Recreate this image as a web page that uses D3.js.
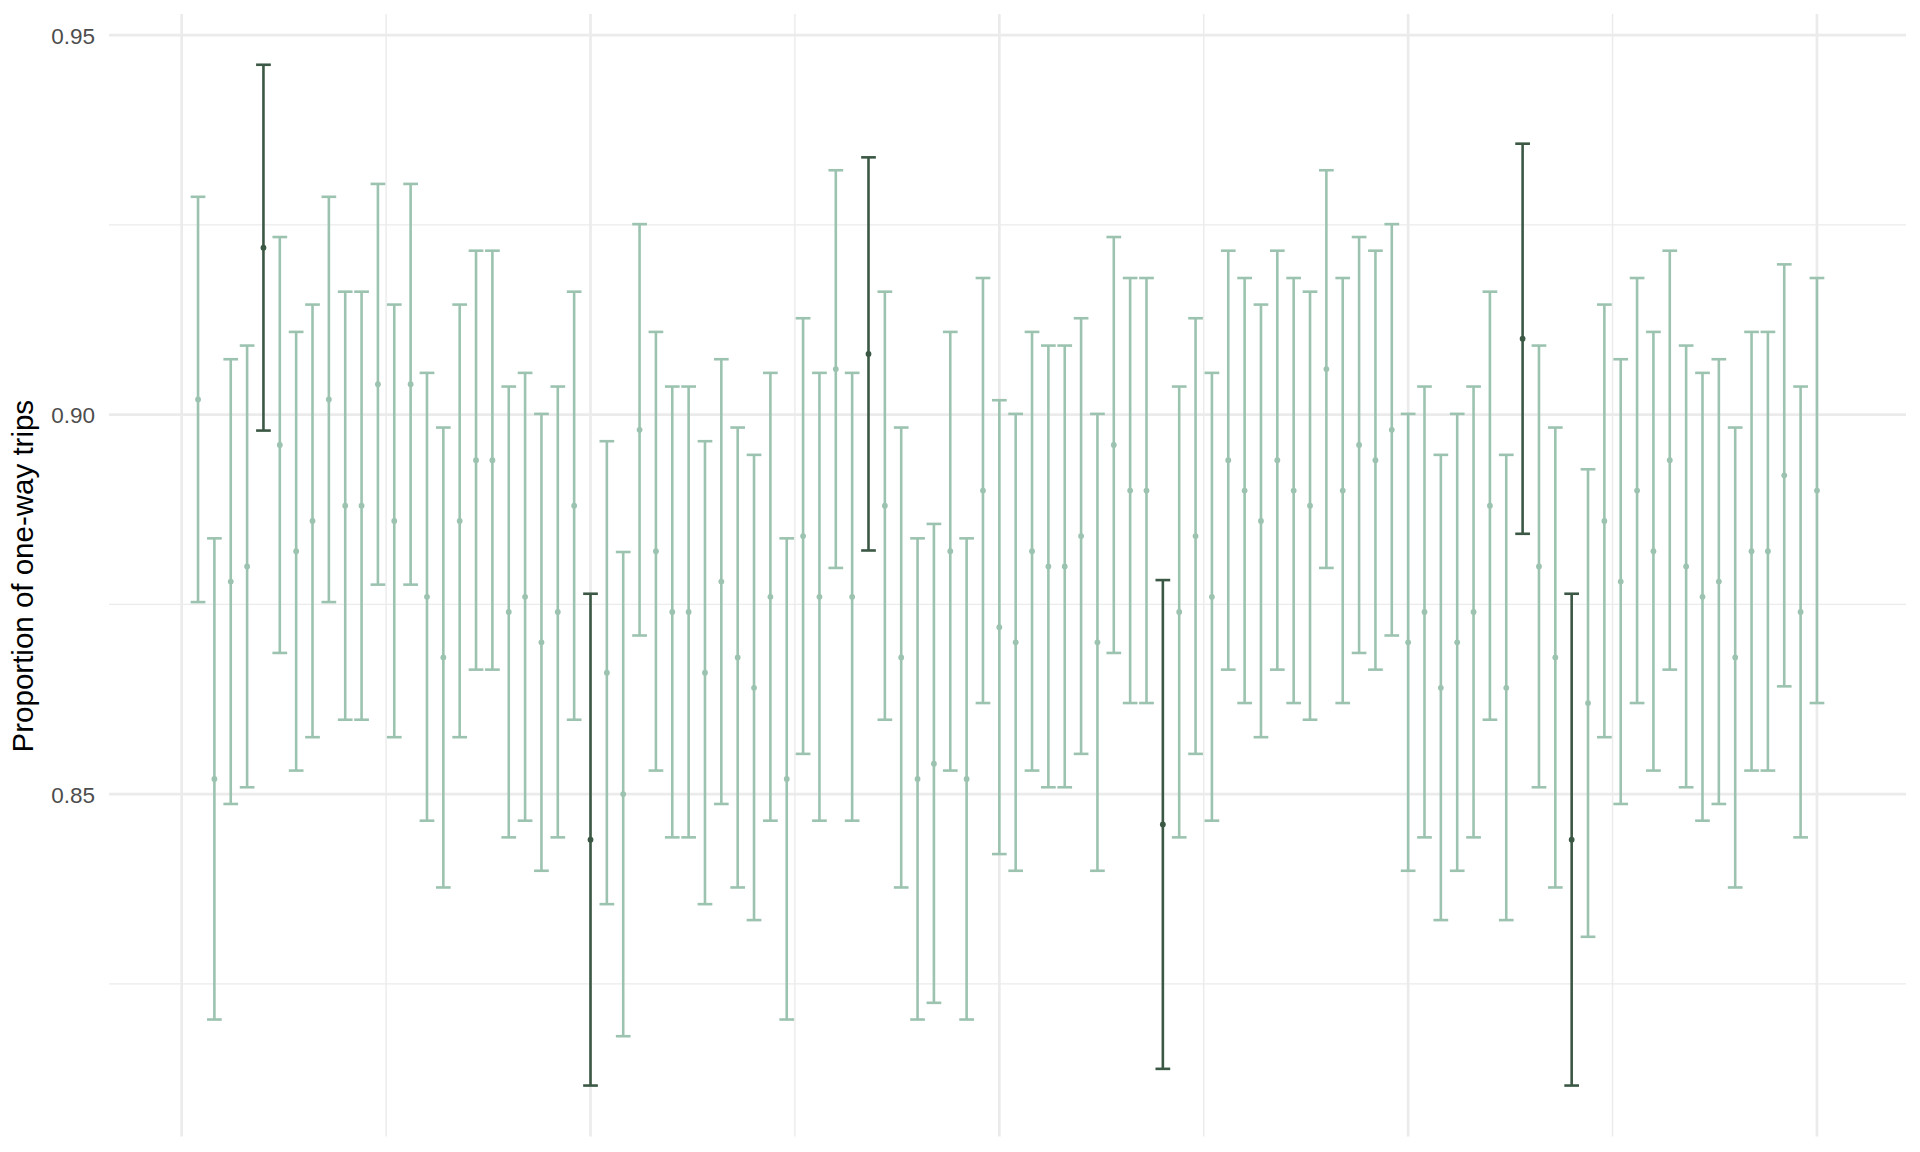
<!DOCTYPE html>
<html>
<head>
<meta charset="utf-8">
<script src="https://cdn.jsdelivr.net/npm/d3@7"></script>
<style>
  html, body { margin: 0; padding: 0; background: #ffffff; }
  svg { display: block; }
</style>
</head>
<body>
<svg id="chart" width="1920" height="1152"></svg>
<script>
// ---- data ----
const trialIds = [1,2,3,4,5,6,7,8,9,10,11,12,13,14,15,16,17,18,19,20,21,22,23,24,25,26,27,28,29,30,31,32,33,34,35,36,37,38,39,40,41,42,43,44,45,46,47,48,49,50,51,52,53,54,55,56,57,58,59,60,61,62,63,64,65,66,67,68,69,70,71,72,73,74,75,76,77,78,79,80,81,82,83,84,85,86,87,88,89,90,91,92,93,94,95,96,97,98,99,100];

const proportion = [0.902,0.852,0.878,0.880,0.922,0.896,0.882,0.886,0.902,0.888,
  0.888,0.904,0.886,0.904,0.876,0.868,0.886,0.894,0.894,0.874,
  0.876,0.870,0.874,0.888,0.844,0.866,0.850,0.898,0.882,0.874,
  0.874,0.866,0.878,0.868,0.864,0.876,0.852,0.884,0.876,0.906,
  0.876,0.908,0.888,0.868,0.852,0.854,0.882,0.852,0.890,0.872,
  0.870,0.882,0.880,0.880,0.884,0.870,0.896,0.890,0.890,0.846,
  0.874,0.884,0.876,0.894,0.890,0.886,0.894,0.890,0.888,0.906,
  0.890,0.896,0.894,0.898,0.870,0.874,0.864,0.870,0.874,0.888,
  0.864,0.910,0.880,0.868,0.844,0.862,0.886,0.878,0.890,0.882,
  0.894,0.880,0.876,0.878,0.868,0.882,0.882,0.892,0.874,0.890];

const lowerCI = [0.8753,0.8203,0.8487,0.8509,0.8979,0.8686,0.8531,0.8575,0.8753,0.8598,
  0.8598,0.8776,0.8575,0.8776,0.8465,0.8377,0.8575,0.8664,0.8664,0.8443,
  0.8465,0.8399,0.8443,0.8598,0.8116,0.8355,0.8181,0.8709,0.8531,0.8443,
  0.8443,0.8355,0.8487,0.8377,0.8334,0.8465,0.8203,0.8553,0.8465,0.8798,
  0.8465,0.8821,0.8598,0.8377,0.8203,0.8225,0.8531,0.8203,0.8620,0.8421,
  0.8399,0.8531,0.8509,0.8509,0.8553,0.8399,0.8686,0.8620,0.8620,0.8138,
  0.8443,0.8553,0.8465,0.8664,0.8620,0.8575,0.8664,0.8620,0.8598,0.8798,
  0.8620,0.8686,0.8664,0.8709,0.8399,0.8443,0.8334,0.8399,0.8443,0.8598,
  0.8334,0.8843,0.8509,0.8377,0.8116,0.8312,0.8575,0.8487,0.8620,0.8531,
  0.8664,0.8509,0.8465,0.8487,0.8377,0.8531,0.8531,0.8642,0.8443,0.8620];

const upperCI = [0.9287,0.8837,0.9073,0.9091,0.9461,0.9234,0.9109,0.9145,0.9287,0.9162,
  0.9162,0.9304,0.9145,0.9304,0.9055,0.8983,0.9145,0.9216,0.9216,0.9037,
  0.9055,0.9001,0.9037,0.9162,0.8764,0.8965,0.8819,0.9251,0.9109,0.9037,
  0.9037,0.8965,0.9073,0.8983,0.8947,0.9055,0.8837,0.9127,0.9055,0.9322,
  0.9055,0.9339,0.9162,0.8983,0.8837,0.8856,0.9109,0.8837,0.9180,0.9019,
  0.9001,0.9109,0.9091,0.9091,0.9127,0.9001,0.9234,0.9180,0.9180,0.8782,
  0.9037,0.9127,0.9055,0.9216,0.9180,0.9145,0.9216,0.9180,0.9162,0.9322,
  0.9180,0.9234,0.9216,0.9251,0.9001,0.9037,0.8947,0.9001,0.9037,0.9162,
  0.8947,0.9357,0.9091,0.8983,0.8764,0.8928,0.9145,0.9073,0.9180,0.9109,
  0.9216,0.9091,0.9055,0.9073,0.8983,0.9109,0.9109,0.9198,0.9037,0.9180];

const highlightedTrials = [5, 25, 42, 60, 82, 85];

const yMajorTicks = [0.85, 0.90, 0.95];
const yTickLabels = ["0.85", "0.90", "0.95"];
const yMinorTicks = [0.825, 0.875, 0.925];
const xMajorTicks = [0, 25, 50, 75, 100];
const xMinorTicks = [12.5, 37.5, 62.5, 87.5];

const yTitle = "Proportion of one-way trips";

// ---- layout ----
const panel = { left: 109, right: 1906, top: 13.9, bottom: 1136.4 };
const colLight = "#9cc3b0";
const colDark = "#3b5845";
const gridCol = "#ebebeb";

const x = d3.scaleLinear().domain([-4.445, 105.445]).range([panel.left, panel.right]);
const y = d3.scaleLinear().domain([0.8049, 0.9528]).range([panel.bottom, panel.top]);

const svg = d3.select("#chart");
svg.append("rect").attr("width", 1920).attr("height", 1152).attr("fill", "#ffffff");

const grid = svg.append("g");
// minor grid
grid.selectAll("line.ymin").data(yMinorTicks).join("line")
  .attr("x1", panel.left).attr("x2", panel.right)
  .attr("y1", d => y(d)).attr("y2", d => y(d))
  .attr("stroke", gridCol).attr("stroke-width", 1.4);
grid.selectAll("line.xmin").data(xMinorTicks).join("line")
  .attr("y1", panel.top).attr("y2", panel.bottom)
  .attr("x1", d => x(d)).attr("x2", d => x(d))
  .attr("stroke", gridCol).attr("stroke-width", 1.4);
// major grid
grid.selectAll("line.ymaj").data(yMajorTicks).join("line")
  .attr("x1", panel.left).attr("x2", panel.right)
  .attr("y1", d => y(d)).attr("y2", d => y(d))
  .attr("stroke", gridCol).attr("stroke-width", 2.7);
grid.selectAll("line.xmaj").data(xMajorTicks).join("line")
  .attr("y1", panel.top).attr("y2", panel.bottom)
  .attr("x1", d => x(d)).attr("x2", d => x(d))
  .attr("stroke", gridCol).attr("stroke-width", 2.7);

// y-axis tick labels via d3 axis
const yAxis = d3.axisLeft(y).tickValues(yMajorTicks)
  .tickFormat((d, i) => yTickLabels[i]).tickSize(0).tickPadding(0);
const yAxisG = svg.append("g").attr("transform", `translate(${95},0)`).call(yAxis);
yAxisG.select(".domain").remove();
yAxisG.selectAll("text")
  .attr("font-family", "'Liberation Sans', Arial, sans-serif")
  .attr("font-size", 22.5)
  .attr("fill", "#4d4d4d")
  .attr("dy", "0.36em");

// y title
svg.append("text")
  .attr("transform", `translate(33,${(panel.top + panel.bottom) / 2 + 1}) rotate(-90)`)
  .attr("text-anchor", "middle")
  .attr("font-family", "'Liberation Sans', Arial, sans-serif")
  .attr("font-size", 29.5)
  .attr("fill", "#000000")
  .text(yTitle);

// data rows
const rows = trialIds.map((id, i) => ({
  id, p: proportion[i], lo: lowerCI[i], hi: upperCI[i],
  hl: highlightedTrials.includes(id)
}));

const capHalf = 0.45;
const marks = svg.append("g");
const order = rows.filter(d => !d.hl).concat(rows.filter(d => d.hl));
const eb = marks.selectAll("g.eb").data(order).join("g")
  .attr("stroke", d => d.hl ? colDark : colLight)
  .attr("stroke-width", 2.6)
  .attr("fill", "none");
eb.append("line")
  .attr("x1", d => x(d.id)).attr("x2", d => x(d.id))
  .attr("y1", d => y(d.lo)).attr("y2", d => y(d.hi));
eb.append("line")
  .attr("x1", d => x(d.id - capHalf)).attr("x2", d => x(d.id + capHalf))
  .attr("y1", d => y(d.hi)).attr("y2", d => y(d.hi));
eb.append("line")
  .attr("x1", d => x(d.id - capHalf)).attr("x2", d => x(d.id + capHalf))
  .attr("y1", d => y(d.lo)).attr("y2", d => y(d.lo));

marks.selectAll("circle").data(order).join("circle")
  .attr("cx", d => x(d.id)).attr("cy", d => y(d.p))
  .attr("r", 2.9)
  .attr("fill", d => d.hl ? colDark : colLight);
</script>
</body>
</html>
